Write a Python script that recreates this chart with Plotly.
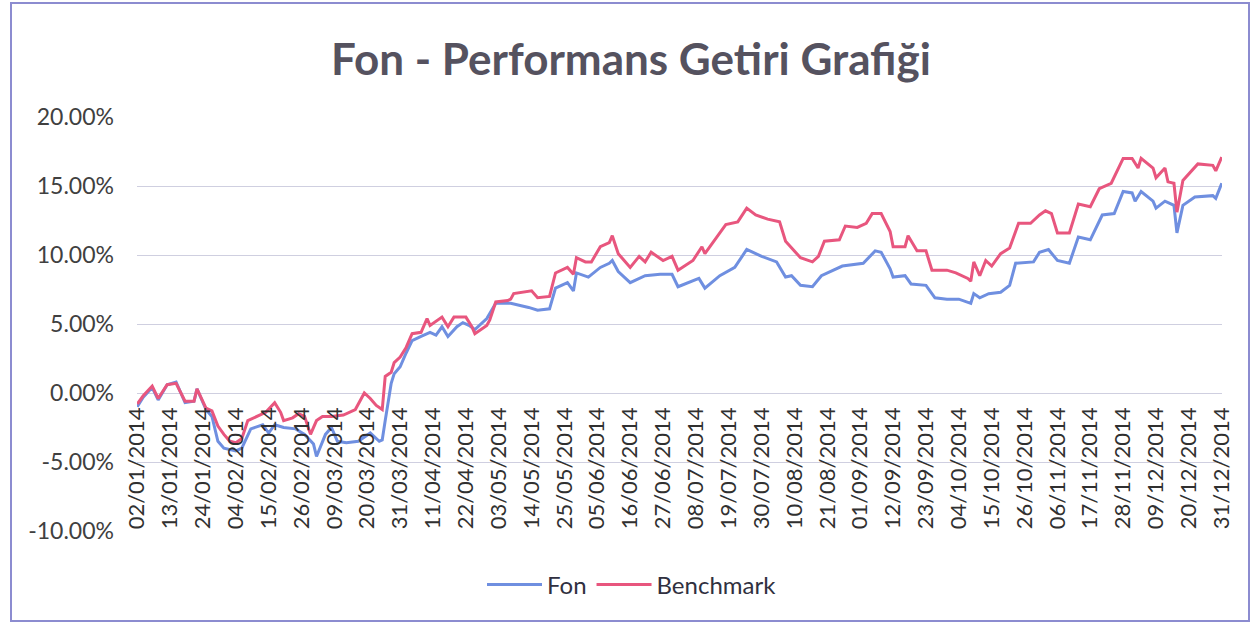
import plotly.graph_objects as go

title_text = "Fon - Performans Getiri Grafiği"

fon_dates = [
    "2014-01-02", "2014-01-04", "2014-01-07", "2014-01-09", "2014-01-12", "2014-01-15",
    "2014-01-18", "2014-01-21", "2014-01-22", "2014-01-25", "2014-01-27", "2014-01-29",
    "2014-01-31", "2014-02-04", "2014-02-06", "2014-02-09", "2014-02-13", "2014-02-15",
    "2014-02-17", "2014-02-20", "2014-02-24", "2014-02-27", "2014-03-02", "2014-03-03",
    "2014-03-06", "2014-03-08", "2014-03-10", "2014-03-13", "2014-03-17", "2014-03-21",
    "2014-03-24", "2014-03-25", "2014-03-26", "2014-03-28", "2014-03-29", "2014-03-31",
    "2014-04-02", "2014-04-04", "2014-04-07", "2014-04-10", "2014-04-12", "2014-04-14",
    "2014-04-16", "2014-04-19", "2014-04-21", "2014-04-23", "2014-04-25", "2014-04-29",
    "2014-05-02", "2014-05-07", "2014-05-13", "2014-05-16", "2014-05-20", "2014-05-22",
    "2014-05-26", "2014-05-28", "2014-05-29", "2014-06-02", "2014-06-06", "2014-06-09",
    "2014-06-10", "2014-06-12", "2014-06-16", "2014-06-21", "2014-06-26", "2014-06-30",
    "2014-07-02", "2014-07-09", "2014-07-11", "2014-07-16", "2014-07-21", "2014-07-25",
    "2014-07-30", "2014-08-04", "2014-08-07", "2014-08-09", "2014-08-12", "2014-08-16",
    "2014-08-19", "2014-08-26", "2014-09-02", "2014-09-06", "2014-09-08", "2014-09-11",
    "2014-09-12", "2014-09-16", "2014-09-18", "2014-09-23", "2014-09-26", "2014-09-30",
    "2014-10-04", "2014-10-08", "2014-10-09", "2014-10-11", "2014-10-14", "2014-10-18",
    "2014-10-21", "2014-10-23", "2014-10-29", "2014-10-31", "2014-11-03", "2014-11-06",
    "2014-11-10", "2014-11-13", "2014-11-17", "2014-11-21", "2014-11-25", "2014-11-28",
    "2014-12-01", "2014-12-02", "2014-12-04", "2014-12-08", "2014-12-09", "2014-12-12",
    "2014-12-15", "2014-12-16", "2014-12-18", "2014-12-22", "2014-12-28", "2014-12-29",
    "2014-12-31",
]
fon_values = [
    -1.0, -0.3, 0.4, -0.5, 0.6, 0.8,
    -0.7, -0.6, 0.3, -1.2, -1.7, -3.5,
    -4.0, -4.2, -4.0, -2.6, -2.3, -2.9,
    -2.3, -2.5, -2.6, -3.0, -3.7, -4.6,
    -3.0, -2.5, -3.5, -3.6, -3.5, -2.9,
    -3.5, -3.4, -2.0, 0.7, 1.4, 1.9,
    2.9, 3.8, 4.1, 4.4, 4.2, 4.8,
    4.1, 4.8, 5.1, 4.9, 4.6, 5.4,
    6.5, 6.5, 6.2, 6.0, 6.1, 7.6,
    8.0, 7.4, 8.7, 8.4, 9.1, 9.4,
    9.6, 8.8, 8.0, 8.5, 8.6, 8.6,
    7.7, 8.3, 7.6, 8.5, 9.1, 10.4,
    9.9, 9.5, 8.4, 8.5, 7.8, 7.7,
    8.5, 9.2, 9.4, 10.3, 10.2, 9.0,
    8.4, 8.5, 7.9, 7.8, 6.9, 6.8,
    6.8, 6.5, 7.2, 6.9, 7.2, 7.3,
    7.8, 9.4, 9.5, 10.2, 10.4, 9.6,
    9.4, 11.3, 11.1, 12.9, 13.0, 14.6,
    14.5, 13.9, 14.6, 13.9, 13.4, 13.9,
    13.6, 11.6, 13.6, 14.2, 14.3, 14.1,
    15.2,
]

bench_dates = [
    "2014-01-02", "2014-01-04", "2014-01-07", "2014-01-09", "2014-01-12", "2014-01-15",
    "2014-01-18", "2014-01-21", "2014-01-22", "2014-01-25", "2014-01-27", "2014-01-29",
    "2014-01-31", "2014-02-02", "2014-02-04", "2014-02-06", "2014-02-08", "2014-02-11",
    "2014-02-14", "2014-02-17", "2014-02-19", "2014-02-20", "2014-02-23", "2014-02-25",
    "2014-02-27", "2014-03-01", "2014-03-03", "2014-03-05", "2014-03-08", "2014-03-12",
    "2014-03-16", "2014-03-19", "2014-03-21", "2014-03-23", "2014-03-25", "2014-03-26",
    "2014-03-28", "2014-03-29", "2014-03-31", "2014-04-02", "2014-04-04", "2014-04-07",
    "2014-04-09", "2014-04-10", "2014-04-12", "2014-04-14", "2014-04-16", "2014-04-18",
    "2014-04-22", "2014-04-24", "2014-04-25", "2014-04-29", "2014-04-30", "2014-05-02",
    "2014-05-06", "2014-05-07", "2014-05-08", "2014-05-12", "2014-05-14", "2014-05-16",
    "2014-05-20", "2014-05-22", "2014-05-26", "2014-05-28", "2014-05-29", "2014-06-01",
    "2014-06-03", "2014-06-06", "2014-06-09", "2014-06-10", "2014-06-12", "2014-06-16",
    "2014-06-19", "2014-06-21", "2014-06-23", "2014-06-27", "2014-06-30", "2014-07-02",
    "2014-07-07", "2014-07-10", "2014-07-11", "2014-07-16", "2014-07-18", "2014-07-22",
    "2014-07-25", "2014-07-28", "2014-08-01", "2014-08-05", "2014-08-07", "2014-08-12",
    "2014-08-16", "2014-08-18", "2014-08-20", "2014-08-25", "2014-08-27", "2014-08-31",
    "2014-09-03", "2014-09-05", "2014-09-08", "2014-09-11", "2014-09-12", "2014-09-16",
    "2014-09-17", "2014-09-20", "2014-09-23", "2014-09-25", "2014-09-30", "2014-10-03",
    "2014-10-07", "2014-10-08", "2014-10-09", "2014-10-11", "2014-10-13", "2014-10-15",
    "2014-10-18", "2014-10-21", "2014-10-24", "2014-10-28", "2014-10-31", "2014-11-02",
    "2014-11-04", "2014-11-06", "2014-11-10", "2014-11-13", "2014-11-17", "2014-11-20",
    "2014-11-24", "2014-11-28", "2014-12-01", "2014-12-03", "2014-12-04", "2014-12-08",
    "2014-12-09", "2014-12-12", "2014-12-13", "2014-12-15", "2014-12-16", "2014-12-18",
    "2014-12-22", "2014-12-23", "2014-12-28", "2014-12-29", "2014-12-31",
]
bench_values = [
    -0.8, -0.2, 0.5, -0.4, 0.6, 0.7,
    -0.6, -0.6, 0.3, -1.1, -1.3, -2.4,
    -3.0, -3.5, -3.6, -3.3, -2.0, -1.7,
    -1.4, -0.7, -1.4, -2.0, -1.8, -1.5,
    -1.7, -3.0, -2.0, -1.7, -1.7, -1.6,
    -1.2, 0.0, -0.4, -0.9, -1.2, 1.2,
    1.5, 2.2, 2.6, 3.3, 4.3, 4.4,
    5.4, 4.9, 5.2, 5.5, 4.8, 5.5,
    5.5, 4.8, 4.3, 4.9, 5.3, 6.6,
    6.7, 6.8, 7.2, 7.3, 7.4, 6.9,
    7.0, 8.7, 9.1, 8.6, 9.8, 9.5,
    9.5, 10.6, 10.9, 11.4, 10.1, 9.1,
    9.9, 9.5, 10.2, 9.6, 9.9, 8.9,
    9.6, 10.6, 10.1, 11.6, 12.2, 12.4,
    13.4, 12.9, 12.6, 12.4, 11.0, 9.8,
    9.5, 9.9, 11.0, 11.1, 12.1, 12.0,
    12.3, 13.0, 13.0, 11.7, 10.6, 10.6,
    11.4, 10.3, 10.3, 8.9, 8.9, 8.7,
    8.3, 8.1, 9.5, 8.5, 9.6, 9.2,
    10.1, 10.5, 12.3, 12.3, 12.9, 13.2,
    13.0, 11.6, 11.6, 13.7, 13.5, 14.8,
    15.2, 17.0, 17.0, 16.3, 17.0, 16.3,
    15.6, 16.3, 15.3, 15.2, 13.1, 15.4,
    16.4, 16.6, 16.5, 16.1, 17.1,
]

y_ticks = [-10, -5, 0, 5, 10, 15, 20]
y_tick_labels = ["-10.00%", "-5.00%", "0.00%", "5.00%", "10.00%", "15.00%", "20.00%"]

fon_color = "#6f8fe0"
bench_color = "#e8567e"
font_family = "Lato, 'Open Sans', sans-serif"

fig = go.Figure()
fig.add_trace(go.Scatter(x=fon_dates, y=fon_values, name="Fon", mode="lines",
                         line=dict(color=fon_color, width=3)))
fig.add_trace(go.Scatter(x=bench_dates, y=bench_values, name="Benchmark", mode="lines",
                         line=dict(color=bench_color, width=3)))

fig.update_layout(
    width=1255, height=624,
    margin=dict(l=137, r=33, t=117, b=93),
    paper_bgcolor="white", plot_bgcolor="white",
    font=dict(family=font_family, color="#404040"),
    title=dict(text="<b>" + title_text + "</b>", x=(631 - 137) / 1085, xref="paper",
               xanchor="center", y=1 - 60 / 624, yanchor="middle",
               font=dict(size=44, color="#55525f", family=font_family)),
    showlegend=True,
    legend=dict(orientation="h", x=(632 - 137) / 1085, xanchor="center", y=-0.13,
                yanchor="middle", yref="paper", font=dict(size=24, color="#303040"),
                itemwidth=55, bgcolor="rgba(0,0,0,0)"),
    xaxis=dict(
        type="date",
        range=["2014-01-01 22:00", "2014-12-31 02:00"],
        tick0="2014-01-02", dtick=11 * 86400000,
        tickformat="%d/%m/%Y", tickangle=-90,
        tickfont=dict(size=22, color="#303030", family=font_family),
        anchor="free", position=1 / 3,
        showgrid=False, showline=False, zeroline=False,
        ticks="", ticklabelstandoff=9,
    ),
    yaxis=dict(
        range=[-10, 20],
        tickvals=y_ticks, ticktext=y_tick_labels,
        tickfont=dict(size=23, color="#404040", family=font_family),
        showgrid=True, gridcolor="#cfcfe0", gridwidth=1,
        zeroline=False, showline=False, ticks="", ticklabelstandoff=22,
    ),
    shapes=[dict(type="rect", xref="paper", yref="paper",
                 x0=-126 / 1085, x1=1 + 27 / 1085, y0=-90 / 414, y1=1 + 114 / 414,
                 line=dict(color="#8c8cd0", width=2), fillcolor="rgba(0,0,0,0)", layer="below")],
)

fig.write_html("out.html", config={"displayModeBar": False},
               post_script="document.body.style.margin='0';")
